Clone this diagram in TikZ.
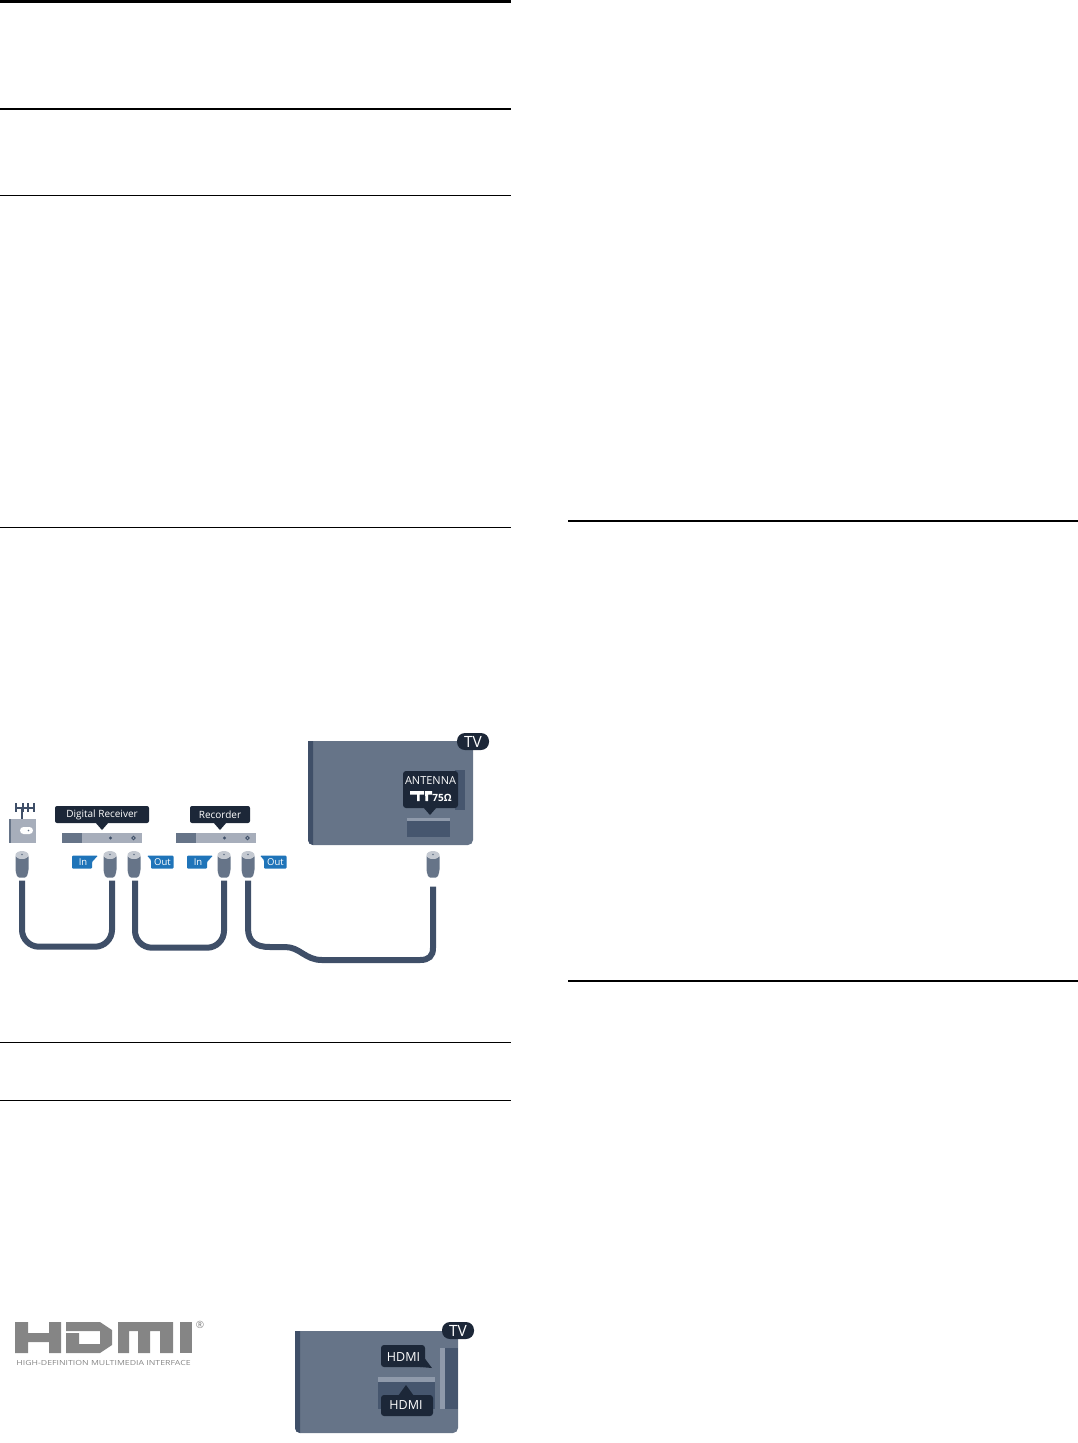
\documentclass[tikz,border=0pt]{standalone}
\usepackage{fontspec}
\setmainfont{Open Sans}
\usetikzlibrary{positioning,calc}
\definecolor{tvgrey}{HTML}{667488}
\definecolor{tvedge}{HTML}{3F4F68}
\definecolor{slotgrey}{HTML}{46566E}
\definecolor{bargrey}{HTML}{A7AEBB}
\definecolor{barlight}{HTML}{8F9AAB}
\definecolor{callout}{HTML}{1C2738}
\definecolor{tagblue}{HTML}{1F74B9}
\definecolor{logogrey}{HTML}{858585}
\definecolor{capgrey}{HTML}{C4C9D1}
\tikzset{
  callbox/.style={fill=callout,rounded corners=2pt,text=white,inner sep=0pt,font=\fontsize{10}{10}\selectfont},
  tvbadge/.style={fill=callout,rounded corners=8pt,text=white,inner sep=0pt,minimum width=32pt,minimum height=17pt,font=\fontsize{15.5}{15}\selectfont},
  barbox/.style={fill=bargrey,inner sep=0pt,minimum width=80pt,minimum height=10pt},
  plugbody/.style={inner sep=0pt,minimum width=13pt,minimum height=26pt},
  cable/.style={draw=tvedge,line width=6pt,rounded corners=17pt},
  tagtxt/.style={text=white,inner sep=0pt,font=\fontsize{9.5}{10}\selectfont},
  logopart/.style={fill=logogrey}
}
\begin{document}
\begin{tikzpicture}[x=1pt,y=-1pt]
  \useasboundingbox (0,0) rectangle (1078,1443);
  % page rules
  \foreach \ypos/\wid in {1.5/3,109/1.6,195/1,527/1,1042/1,1100/1}
    \draw[black,line width=\wid pt] (0,\ypos) -- (511,\ypos);
  \foreach \ypos in {521,981}
    \draw[black,line width=1.6pt] (568,\ypos) -- (1078,\ypos);

  % first tv
  \fill[tvgrey,rounded corners=5pt] (308,741) [sharp corners] -- (473,741) [rounded corners=5pt] -- (473,845) -- (308,845) [sharp corners] -- cycle;
  \fill[tvedge,rounded corners=5pt] (308,741) [sharp corners] -- (313,741) -- (313,845) [rounded corners=5pt] -- (308,845) [sharp corners] -- cycle;
  \fill[slotgrey] (455,770) rectangle (465,810);
  \fill[barlight] (407,818) rectangle (450,821);
  \fill[slotgrey] (407,821) rectangle (450,837);
  \node[tvbadge] (badgeone) at (473,741.5) {TV};
  \fill[callout,rounded corners=3pt] (403,771) -- (458,771) -- (458,808) -- (403,808) -- cycle;
  \fill[callout] (423,807) -- (437,807) -- (430,815) -- cycle;
  \node[text=white,inner sep=0pt,font=\fontsize{11}{11}\selectfont] (antennatxt) at (430.5,780.5) {ANTENNA};
  \fill[white] (410,791) -- (424,791) -- (424,794.5) -- (419.5,794.5) -- (419.5,801) -- (417,801) -- (417,794.5) -- (410,794.5) -- cycle;
  \fill[white] (425,791) -- (432,791) -- (432,794.5) -- (428,794.5) -- (428,801) -- (425.5,801) -- cycle;
  \node[text=white,inner sep=0pt,font=\fontsize{10}{10}\selectfont\bfseries] (ohmtxt) at (442,797.5) {75Ω};

  % antenna socket
  \fill[bargrey] (9,819) rectangle (36,843);
  \fill[tvgrey] (9,819) rectangle (10.5,843);
  \fill[white,rounded corners=3.5pt] (20,827) rectangle (33,834);
  \fill[tvgrey] (28.5,830.5) circle (0.8pt);
  \draw[tvedge,line width=1.5pt] (22,808) -- (22,819);
  \draw[tvedge,line width=1.3pt] (15,808) -- (35,808);
  \foreach \xpos in {16,23,28,34}
    \draw[tvedge,line width=1.3pt] (\xpos,803) -- (\xpos,812);

  % devices
  \node[barbox,anchor=west] (barone) at (62,838) {};
  \fill[tvgrey] (62,833) rectangle (82,843);
  \fill[tvedge] (110.5,838) circle (1.6pt);
  \draw[tvedge,line width=.8pt] (133.5,838) circle (1.7pt);
  \node[callbox,minimum width=94pt,minimum height=17pt] (recvbox) at (102,814.5) {Digital Receiver};
  \fill[callout] (95,822) -- (109,822) -- (102,830) -- cycle;
  \node[barbox,anchor=west] (bartwo) at (176,838) {};
  \fill[tvgrey] (176,833) rectangle (196,843);
  \fill[tvedge] (224.5,838) circle (1.6pt);
  \draw[tvedge,line width=.8pt] (247.5,838) circle (1.7pt);
  \node[callbox,minimum width=60pt,minimum height=17pt] (recbox) at (220,814.5) {Recorder};
  \fill[callout] (213,822) -- (227,822) -- (220,830) -- cycle;

  % in and out tags
  \foreach \tagname/\xleft in {inone/72,intwo/187}{
    \fill[tagblue,rounded corners=1pt] (\xleft,855.5) -- (\xleft+26,855.5) -- (\xleft+20,862) -- (\xleft+20,868.5) -- (\xleft,868.5) -- cycle;
    \node[tagtxt] (\tagname) at (\xleft+11,862) {In};
  }
  \foreach \tagname/\xleft in {outone/147,outtwo/260}{
    \fill[tagblue,rounded corners=1pt] (\xleft,855.5) -- (\xleft+26.5,855.5) -- (\xleft+26.5,868.5) -- (\xleft+4,868.5) -- (\xleft+4,860) -- cycle;
    \node[tagtxt] (\tagname) at (\xleft+15.5,862) {Out};
  }

  % plugs
  \foreach \plugname/\xpos in {plugant/22,plugrin/110,plugrout/134,plugtin/224,plugtout/248,plugtv/433}{
    \node[plugbody] (\plugname) at (\xpos,864.5) {};
    \fill[tvgrey,rounded corners=1.5pt] (\xpos-6.5,855) -- (\xpos+6.5,855) -- (\xpos+6.5,871) -- (\xpos+4.5,877.5) -- (\xpos-4.5,877.5) -- (\xpos-6.5,871) -- cycle;
    \fill[capgrey] (\xpos-6.5,855) arc[start angle=180,end angle=360,x radius=6.5pt,y radius=3.8pt] -- (\xpos+6.5,855) -- cycle;
    \fill[capgrey] (\xpos,855) ellipse[x radius=6.5pt,y radius=4pt];
    \fill[tvgrey] (\xpos,854.5) circle (.9pt);
  }

  % cables
  \draw[cable] ($(plugant.south)+(0,3)$) -- ++(0,66) -| ($(plugrin.south)+(2,3)$);
  \draw[cable] ($(plugrout.south)+(1,3)$) -- ++(0,67) -| ($(plugtin.south)+(0,3)$);
  \draw[cable,rounded corners=0pt] ($(plugtout.south)+(0,3)$) -- (248,928)
    .. controls (248,942) and (256,947) .. (270,947) -- (285,947)
    .. controls (300,947) and (305,960) .. (322,960) -- (420,960)
    .. controls (429,960) and (433,956) .. (433,948) -- ($(plugtv.south)+(0,9)$);

  % hdmi logo
  \fill[logopart] (15,1322) -- (28,1322) -- (28,1333) -- (49,1333) -- (49,1322) -- (61,1322) -- (61,1353) -- (49,1353) -- (49,1342) -- (28,1342) -- (28,1353) -- (15,1353) -- cycle;
  \fill[logopart] (66,1322) -- (100,1322) -- (112,1330) -- (112,1345) -- (100,1353) -- (66,1353) -- (66,1333) -- (79,1333) -- (79,1344) -- (100,1344) -- (100,1331) -- (66,1331) -- cycle;
  \fill[logopart] (118,1322) -- (173,1322) -- (173,1353) -- (160,1353) -- (160,1331) -- (150,1331) -- (150,1353) -- (138,1353) -- (138,1331) -- (129,1331) -- (129,1353) -- (118,1353) -- cycle;
  \fill[logopart] (180,1322) rectangle (192,1353);
  \node[text=logogrey,inner sep=0pt,font=\fontsize{10}{10}\selectfont] (regmark) at (200,1325) {®};
  \node[text=logogrey,inner sep=0pt,xscale=1.25,font=\fontsize{7}{7}\selectfont] (hdmisub) at (103.5,1363) {HIGH-DEFINITION MULTIMEDIA INTERFACE};

  % second tv
  \fill[tvgrey,rounded corners=5pt] (295,1331) [sharp corners] -- (458,1331) [rounded corners=5pt] -- (458,1433) -- (295,1433) [sharp corners] -- cycle;
  \fill[tvedge,rounded corners=5pt] (295,1331) [sharp corners] -- (300,1331) -- (300,1433) [rounded corners=5pt] -- (295,1433) [sharp corners] -- cycle;
  \fill[barlight] (440,1348) rectangle (445,1409);
  \fill[slotgrey] (445,1348) rectangle (458,1409);
  \fill[slotgrey] (378,1382) rectangle (435,1409);
  \fill[barlight] (378,1377) rectangle (435,1382);
  \node[tvbadge] (badgetwo) at (458,1330.5) {TV};
  \fill[callout,rounded corners=3pt] (381,1345) -- (425,1345) -- (425,1367) -- (381,1367) -- cycle;
  \fill[callout] (420,1352) -- (432,1368) -- (420,1367) -- cycle;
  \node[text=white,inner sep=0pt,font=\fontsize{12.5}{12}\selectfont] (hdmiup) at (403.5,1357) {HDMI};
  \fill[callout,rounded corners=3pt] (381,1395) -- (433,1395) -- (433,1416) -- (381,1416) -- cycle;
  \fill[callout] (398,1396) -- (406,1385) -- (414,1396) -- cycle;
  \node[text=white,inner sep=0pt,font=\fontsize{12.5}{12}\selectfont] (hdmidown) at (406,1405.5) {HDMI};
\end{tikzpicture}
\end{document}
